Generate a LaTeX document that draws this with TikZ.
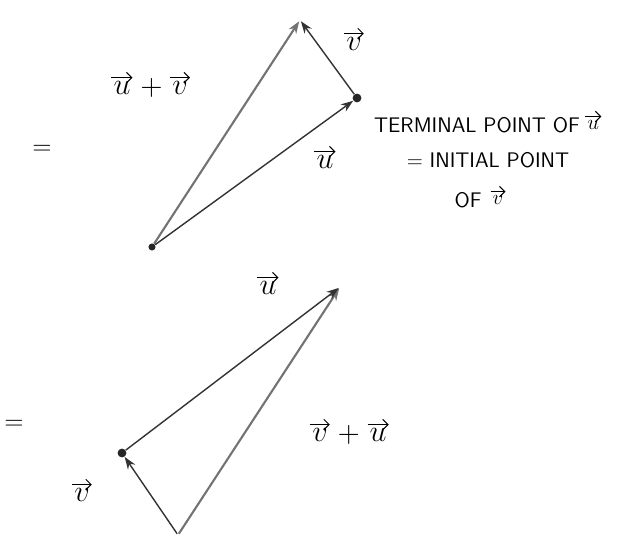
\documentclass[tikz,border=0pt]{standalone}
\usepackage{amsmath}
\usetikzlibrary{arrows.meta,positioning}

\begin{document}
\begin{tikzpicture}[
    x=0.02cm, y=-0.02cm,
    every node/.style={font=\fontsize{19}{23}\selectfont},
    dot/.style={circle, fill=black!85, inner sep=0pt, minimum size=5pt},
    tip/.style={inner sep=0pt, minimum size=1pt},
    vecarrow/.style={thick, draw=black!80, -{Stealth[length=7pt,width=5pt]}},
    sumarrow/.style={very thick, draw=black!55, -{Stealth[length=7pt,width=5pt]}},
    bar/.style={semithick, -{Straight Barb[length=3pt]}},
    vname/.style={inner sep=1pt,
      append after command={([yshift=1pt]\tikzlastnode.north west)
        edge[bar] ([yshift=1pt]\tikzlastnode.north east)}},
    note/.style={font=\sffamily\fontsize{12}{14}\selectfont, inner sep=1pt},
    small/.style={vname, font=\fontsize{13}{15}\selectfont},
    equal/.style={font=\fontsize{14}{16}\selectfont}
]
\useasboundingbox (0,0) rectangle (629,550);

% u + v
\node (eq1) [equal] at (42,150) {$=$};
\node (a)  [dot, minimum size=4pt] at (152,247) {};
\node (b)  [dot] at (357,98) {};
\node (c)  [tip] at (300,20) {};

\draw [sumarrow] (a) -- (c);
\draw [vecarrow] (a) -- (b);
\draw [vecarrow] (b) -- (c);

\node (su1) [vname] at (122,88) {$u$};
\node (pl1) [right=1pt of su1] {$+$};
\node (sv1) [vname, right=1pt of pl1] {$v$};
\node (lu1) [vname] at (325,162) {$u$};
\node (lv1) [vname] at (354,44) {$v$};

\node (n1) [note, anchor=west] at (372,125) {TERMINAL POINT OF};
\node (nu) [small, right=2pt of n1] {$u$};
\node (n2) [note] at (488,160) {= INITIAL POINT};
\node (n3) [note] at (468,200) {OF};
\node (nv) [small, right=4pt of n3] {$v$};

% v + u
\node (eq2) [equal] at (14,425) {$=$};
\node (p)  [tip] at (178,535) {};
\node (q)  [dot] at (122,453) {};
\node (r)  [tip] at (340,287) {};

\draw [sumarrow] (p) -- (r);
\draw [vecarrow] (p) -- (q);
\draw [vecarrow] (q) -- (r);

\node (lu2) [vname] at (268,288) {$u$};
\node (lv2) [vname] at (82,495) {$v$};
\node (sv2) [vname] at (320,435) {$v$};
\node (pl2) [right=1pt of sv2] {$+$};
\node (su2) [vname, right=1pt of pl2] {$u$};
\end{tikzpicture}
\end{document}
